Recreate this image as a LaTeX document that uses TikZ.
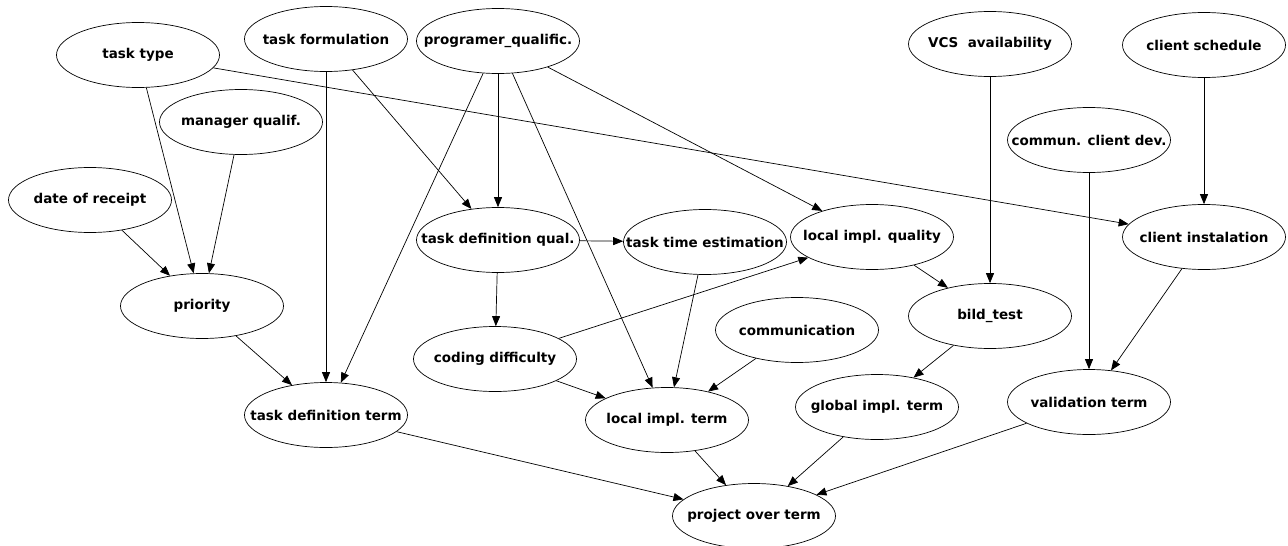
\documentclass[tikz,border=0pt]{standalone}
\usepackage{fontspec}
\setmainfont{DejaVu Sans}
\usetikzlibrary{arrows.meta,shapes.geometric}

\tikzset{
	var/.style={draw, ellipse, minimum width=163pt, minimum height=65pt, inner xsep=-40pt, inner ysep=0pt, line width=0.7pt, font=\fontsize{13.5}{15}\selectfont\bfseries},
	dep/.style={-{Triangle[length=10pt,width=8pt]}, line width=0.7pt}
}

\begin{document}
\begin{tikzpicture}[x=1pt,y=-1pt]
			%%%%% START %%%%%
			\useasboundingbox (0,0) rectangle (1288,546);
			
			% top row
			\node[var] (tasktype) at (138,55) {task type};
			\node[var] (taskform) at (326,39) {task formulation};
			\node[var] (progqual) at (498,41) {programer\_qualific.};
			\node[var] (vcs) at (990,44) {VCS~~availability};
			\node[var] (clientsched) at (1204,45) {client schedule};
			
			\node[var] (manqual) at (241,122) {manager qualif.};
			\node[var] (commclient) at (1089,140) {commun. client dev.};
			\node[var] (receipt) at (90,200) {date of receipt};
			
			% middle row
			\node[var] (taskdefqual) at (498,240) {task definition qual.};
			\node[var] (timeest) at (705,242) {task time estimation};
			\node[var] (localqual) at (872,237) {local impl. quality};
			\node[var] (clientinst) at (1204,237) {client instalation};
			
			\node[var] (priority) at (202,306) {priority};
			\node[var] (bildtest) at (990,316) {bild\_test};
			\node[var] (communication) at (797,330) {communication};
			\node[var] (codingdiff) at (495,359) {coding difficulty};
			
			% bottom rows
			\node[var] (taskdefterm) at (326,415) {task definition term};
			\node[var] (localterm) at (667,420) {local impl. term};
			\node[var] (globalterm) at (877,407) {global impl. term};
			\node[var] (validterm) at (1089,402) {validation term};
			\node[var] (projterm) at (754,516) {project over term};
			
			% dependencies
			\draw[dep] (tasktype) -- (priority);
			\draw[dep] (manqual) -- (priority);
			\draw[dep] (receipt) -- (priority);
			\draw[dep] (tasktype) -- (clientinst);
			\draw[dep] (taskform) -- (taskdefterm);
			\draw[dep] (taskform) -- (taskdefqual);
			\draw[dep] (progqual) -- (taskdefterm);
			\draw[dep] (progqual) -- (taskdefqual);
			\draw[dep] (progqual) -- (localterm);
			\draw[dep] (progqual) -- (localqual);
			\draw[dep] (taskdefqual) -- (timeest);
			\draw[dep] (taskdefqual) -- (codingdiff);
			\draw[dep] (codingdiff) -- (localqual);
			\draw[dep] (codingdiff) -- (localterm);
			\draw[dep] (timeest) -- (localterm);
			\draw[dep] (communication) -- (localterm);
			\draw[dep] (localqual) -- (bildtest);
			\draw[dep] (vcs) -- (bildtest);
			\draw[dep] (bildtest) -- (globalterm);
			\draw[dep] (clientsched) -- (clientinst);
			\draw[dep] (commclient) -- (validterm);
			\draw[dep] (clientinst) -- (validterm);
			\draw[dep] (priority) -- (taskdefterm);
			\draw[dep] (taskdefterm) -- (projterm);
			\draw[dep] (localterm) -- (projterm);
			\draw[dep] (globalterm) -- (projterm);
			\draw[dep] (validterm) -- (projterm);
			
			%%%%% END %%%%%
\end{tikzpicture}
\end{document}
